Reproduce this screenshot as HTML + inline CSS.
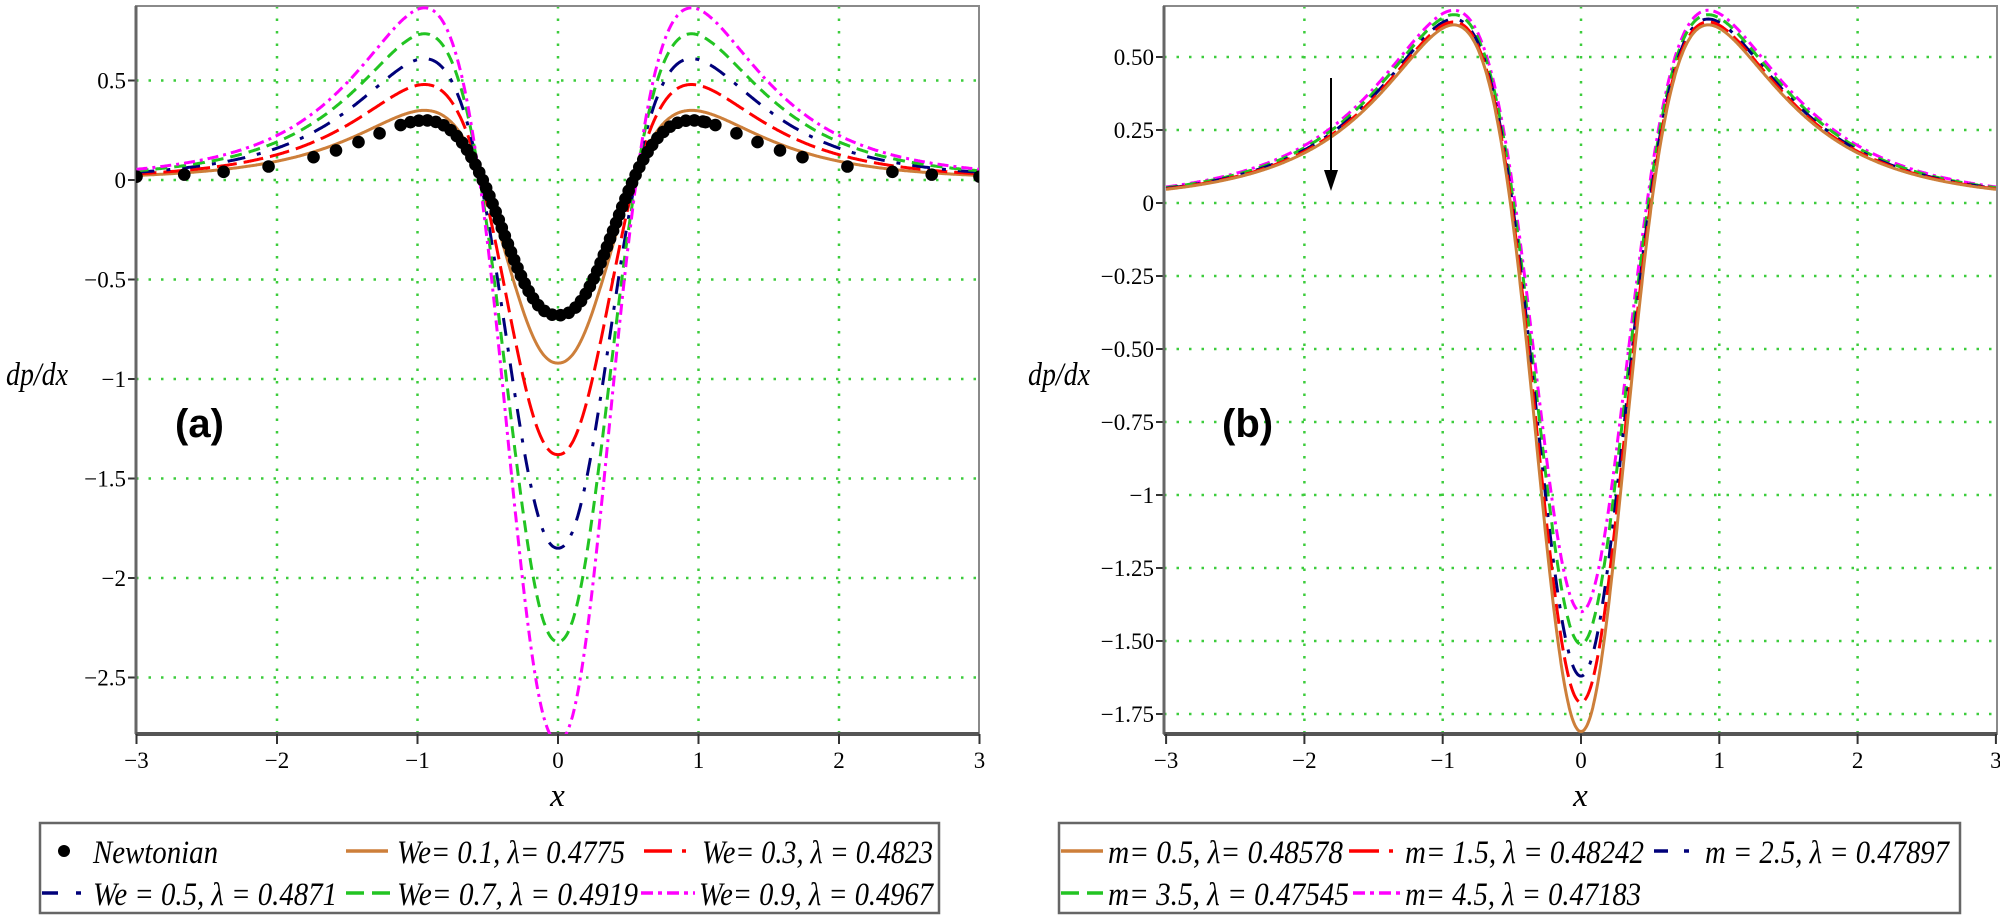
<!DOCTYPE html>
<html><head><meta charset="utf-8"><style>
html,body{margin:0;padding:0;background:#fff;}
svg{display:block;}
.tk{font-family:"Liberation Serif",serif;font-size:23px;fill:#000;}
.lg{font-family:"Liberation Serif",serif;font-style:italic;font-size:33px;fill:#000;}
</style></head><body>
<svg id="s" width="2000" height="920" xmlns="http://www.w3.org/2000/svg">
<defs>
<clipPath id="cA"><rect x="136" y="6" width="843" height="728"/></clipPath>
<clipPath id="cB"><rect x="1164" y="6" width="833" height="728"/></clipPath>
</defs>
<g id="g"></g>
</svg>
<script>
var NS="http://www.w3.org/2000/svg",G=document.getElementById('g');
function el(t,a,txt,par){var e=document.createElementNS(NS,t);for(var k in a)e.setAttribute(k,a[k]);if(txt!=null)e.textContent=txt;(par||G).appendChild(e);return e;}
function solveR(f0,P){var c=4*Math.abs(f0)/(27*P),lo=0.3,hi=0.999;for(var i=0;i<60;i++){var m=(lo+hi)/2;if((1-m)/(m*m*m)>c)lo=m;else hi=m;}return (lo+hi)/2;}
function mk(f0,P,xp,p){var r=solveR(f0,P),b=27*P/(4*r*r*r),a=r*b,k=(1.5/r-1)/Math.pow(xp,p);return function(x){var u=1/(1+k*Math.pow(Math.abs(x),p));return a*u*u-b*u*u*u;};}
function plot(o){
 var X=function(x){return o.x0+x*o.sx;},Y=function(y){return o.y0-y*o.sy;};
 for(var i=-2;i<=2;i++) el('line',{x1:X(i),x2:X(i),y1:o.top,y2:o.bot,stroke:'#3ccc3c','stroke-width':2.5,'stroke-dasharray':'2.5 10'});
 o.yt.forEach(function(t){var y=Y(t[0]);el('line',{x1:o.L,x2:o.R,y1:y,y2:y,stroke:'#3ccc3c','stroke-width':2.5,'stroke-dasharray':'2.5 10'});
   el('line',{x1:o.L-8,x2:o.L,y1:y,y2:y,stroke:'#333','stroke-width':2});
   el('text',{x:o.L-10,y:y+8,'text-anchor':'end','class':'tk'},t[1]);});
 el('rect',{x:o.L,y:o.top,width:o.R-o.L,height:o.bot-o.top,fill:'none',stroke:'#8a8a8a','stroke-width':2});
 el('line',{x1:o.L,x2:o.L,y1:o.top,y2:o.bot,stroke:'#666','stroke-width':3});
 el('line',{x1:o.L,x2:o.R,y1:o.bot,y2:o.bot,stroke:'#555','stroke-width':4});
 for(var i=-3;i<=3;i++){el('line',{x1:X(i),x2:X(i),y1:o.bot,y2:o.bot+10,stroke:'#333','stroke-width':2});
   el('text',{x:X(i),y:o.bot+34,'text-anchor':'middle','class':'tk'},i<0?'\u2212'+(-i):''+i);}
 var gc=el('g',{'clip-path':'url(#'+o.clip+')'});
 o.series.forEach(function(s){var d='';for(var j=0;j<=1200;j++){var x=-3+6*j/1200;d+=(j?'L':'M')+X(x).toFixed(1)+' '+Y(s.f(x)).toFixed(1);}
   el('path',{d:d,fill:'none',stroke:s.c,'stroke-width':3,'stroke-dasharray':s.d||'none'},null,gc);});
 if(o.dots){var f=o.dots,xs=[1.05,1.12,1.27,1.42,1.58,1.74,2.06,2.38,2.66,3];
   var pts=[];xs.forEach(function(x){pts.push(x);pts.push(-x);});
   var px=X(-1.05),py=Y(f(-1.05)),acc=0;
   for(var j=1;j<=4000;j++){var x=-1.05+2.1*j/4000,nx=X(x),ny=Y(f(x));acc+=Math.hypot(nx-px,ny-py);px=nx;py=ny;if(acc>=8.5){pts.push(x);acc=0;}}
   pts.forEach(function(x){el('circle',{cx:X(x),cy:Y(f(x)),r:6.3,fill:'#000'},null,gc);});}
 el('text',{x:o.lx,y:385,'class':'lg','font-size':31,textLength:62,lengthAdjust:'spacingAndGlyphs'},'dp/dx');
 el('text',{x:(o.L+o.R)/2,y:806,'text-anchor':'middle','class':'lg','font-size':30},'x');
 el('text',{x:o.tx,y:437,'font-family':'Liberation Sans,sans-serif','font-weight':'bold','font-size':40,fill:'#000'},o.tag);
}
var OR='#cd7f3a',RD='#ff0000',BL='#00007a',GR='#22c422',MG='#ff00ff';
var DR='20 7',DB='18 12 4 12',DG='12 7',DM='11 5 3 5';
plot({x0:558,sx:140.5,y0:180,sy:199,L:136,R:979,top:6,bot:734,clip:'cA',lx:6,tx:175,tag:'(a)',
 yt:[[0.5,'0.5'],[0,'0'],[-0.5,'\u22120.5'],[-1,'\u22121'],[-1.5,'\u22121.5'],[-2,'\u22122'],[-2.5,'\u22122.5']],
 series:[{f:mk(-0.92,0.35,0.95,2.2),c:OR},{f:mk(-1.38,0.48,0.95,2.2),c:RD,d:DR},{f:mk(-1.85,0.61,0.95,2.2),c:BL,d:DB},
  {f:mk(-2.32,0.735,0.95,2.2),c:GR,d:DG},{f:mk(-2.82,0.865,0.95,2.2),c:MG,d:DM}],
 dots:mk(-0.68,0.30,0.95,2.3)});
plot({x0:1581,sx:138.3,y0:203,sy:292,L:1164,R:1997,top:6,bot:734,clip:'cB',lx:1028,tx:1222,tag:'(b)',
 yt:[[0.5,'0.50'],[0.25,'0.25'],[0,'0'],[-0.25,'\u22120.25'],[-0.5,'\u22120.50'],[-0.75,'\u22120.75'],[-1,'\u22121'],[-1.25,'\u22121.25'],[-1.5,'\u22121.50'],[-1.75,'\u22121.75']],
 series:[{f:mk(-1.40,0.66,0.92,2.05),c:MG,d:DM},{f:mk(-1.51,0.645,0.92,2.05),c:GR,d:DG},{f:mk(-1.62,0.63,0.92,2.05),c:BL,d:DB},
  {f:mk(-1.71,0.62,0.92,2.05),c:RD,d:DR},{f:mk(-1.81,0.61,0.92,2.05),c:OR}]});
el('line',{x1:1331,y1:78,x2:1331,y2:178,stroke:'#000','stroke-width':2});
el('path',{d:'M1324 170 L1338 170 L1331 191 Z',fill:'#000'});
function box(x1,x2){el('rect',{x:x1,y:823,width:x2-x1,height:90,fill:'#fff',stroke:'#666','stroke-width':2.5});}
function item(ln,x1,x2,c,d,tx,tw,row,txt){var y=row?893:851;
 if(ln==='dot')el('circle',{cx:64,cy:y,r:6,fill:'#000'});else el('line',{x1:x1,x2:x2,y1:y,y2:y,stroke:c,'stroke-width':3.5,'stroke-dasharray':d||'none'});
 el('text',{x:tx,y:y+12,'class':'lg',textLength:tw,lengthAdjust:'spacingAndGlyphs'},txt);}
box(40,939);
item('dot',0,0,'#000','',93,125,0,'Newtonian');
item('l',346,388,OR,'',397,228,0,'We= 0.1, \u03bb= 0.4775');
item('l',644,699,RD,'28 10 4 20',702,231,0,'We= 0.3, \u03bb = 0.4823');
item('l',42,87,BL,'16 18 5 20',93,244,1,'We = 0.5, \u03bb = 0.4871');
item('l',346,394,GR,'18 8',397,241,1,'We= 0.7, \u03bb = 0.4919');
item('l',641,695,MG,'12 5 4 5',699,234,1,'We= 0.9, \u03bb = 0.4967');
box(1059,1960);
item('l',1061,1103,OR,'',1108,235,0,'m= 0.5, \u03bb= 0.48578');
item('l',1349,1401,RD,'30 10 4 20',1405,239,0,'m= 1.5, \u03bb = 0.48242');
item('l',1654,1699,BL,'14 16 5 20',1705,244,0,'m = 2.5, \u03bb = 0.47897');
item('l',1061,1103,GR,'18 8',1108,241,1,'m= 3.5, \u03bb = 0.47545');
item('l',1353,1401,MG,'12 5 4 5',1405,236,1,'m= 4.5, \u03bb = 0.47183');
</script>
</body></html>
